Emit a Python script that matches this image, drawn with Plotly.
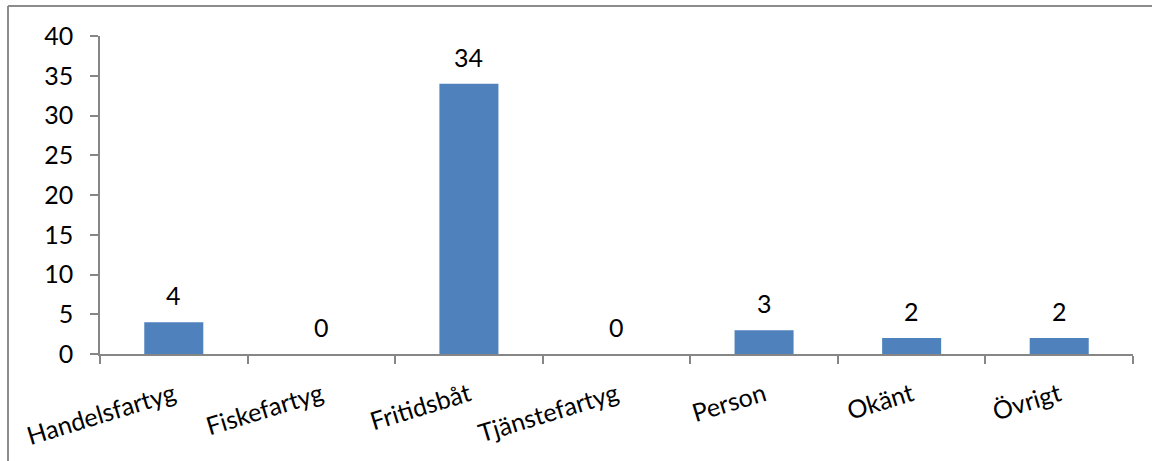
import plotly.graph_objects as go

categories = ["Handelsfartyg", "Fiskefartyg", "Fritidsbåt", "Tjänstefartyg", "Person", "Okänt", "Övrigt"]
counts = [4, 0, 34, 0, 3, 2, 2]
y_ticks = [0, 5, 10, 15, 20, 25, 30, 35, 40]

W, H = 1152, 461
L, R, T, B = 100, 19, 36, 107
FONT = "Lato, 'Open Sans', sans-serif"
FS = 25
AXIS_GREY = "#868686"

fig = go.Figure()
fig.add_trace(go.Bar(
    x=categories, y=counts, width=0.4,
    marker=dict(color="#4F81BD", line=dict(width=0)),
    hoverinfo="skip",
))

# value labels above each bar
for c, v in zip(categories, counts):
    fig.add_annotation(x=c, y=v, text=str(v), showarrow=False,
                       yanchor="bottom", yshift=10,
                       font=dict(family=FONT, size=FS, color="black"))

# chart frame (top and left edges)
pw, ph = W - L - R, H - T - B
x_left = (8 - L) / pw
y_top = (H - B - 6) / ph
fig.add_shape(type="line", xref="paper", yref="paper", x0=x_left, x1=(W - L) / pw,
              y0=y_top, y1=y_top, line=dict(color="#8c8c8c", width=2))
fig.add_shape(type="line", xref="paper", yref="paper", x0=x_left, x1=x_left,
              y0=y_top, y1=-(B + 5) / ph, line=dict(color="#8c8c8c", width=2))

fig.update_layout(
    width=W, height=H,
    margin=dict(l=L, r=R, t=T, b=B),
    paper_bgcolor="white", plot_bgcolor="white",
    showlegend=False,
    font=dict(family=FONT, size=FS, color="black"),
    bargap=0.6,
)
fig.update_xaxes(
    type="category", tickson="boundaries", ticks="outside", ticklen=8,
    tickcolor=AXIS_GREY, tickwidth=1.5,
    showline=True, linecolor=AXIS_GREY, linewidth=1.5,
    showgrid=False, tickangle=-17, ticklabelstandoff=15,
    tickfont=dict(family=FONT, size=FS, color="black"),
)
fig.update_yaxes(
    range=[0, 40], tickvals=y_ticks, ticks="outside", ticklen=8,
    tickcolor=AXIS_GREY, tickwidth=1.5,
    showline=True, linecolor=AXIS_GREY, linewidth=1.5,
    showgrid=False, zeroline=False, ticklabelstandoff=12,
    tickfont=dict(family=FONT, size=FS, color="black"),
)

fig.write_html("out.html")
